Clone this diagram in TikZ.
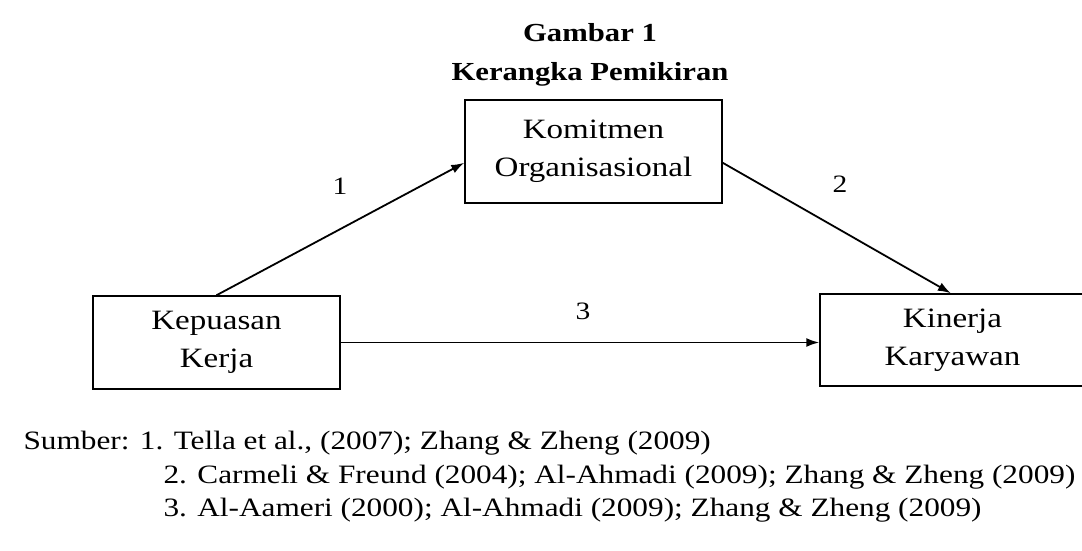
\documentclass[tikz,border=0pt]{standalone}
\usepackage{fontspec}
\setmainfont{Liberation Serif}[FakeStretch=1.18]
\usetikzlibrary{arrows.meta}

\begin{document}
\begin{tikzpicture}[x=1pt,y=-1pt,
    box/.style={draw,line width=1.5pt,align=center,inner sep=0pt,
      font=\fontsize{28}{38}\selectfont},
    link/.style={line width=1.8pt,-{Latex[length=13pt,width=9pt]}},
    num/.style={font=\fontsize{25}{30}\selectfont},
    src/.style={anchor=base west,font=\fontsize{26.5}{30}\selectfont}]
    \useasboundingbox (0,0) rectangle (1082,551);
    \clip (0,0) rectangle (1082,551);
    \node[align=center,font=\bfseries\fontsize{26}{39}\selectfont] (judul) at (590,55)
      {Gambar 1\\Kerangka Pemikiran};
    \node[box,minimum width=257pt,minimum height=103pt] (komit) at (593.5,151.5)
      {Komitmen\\Organisasional};
    \node[box,minimum width=247pt,minimum height=93pt] (puas) at (216.5,342.5)
      {Kepuasan\\Kerja};
    \node[box,minimum width=265pt,minimum height=92pt] (kinerja) at (952.5,340)
      {Kinerja\\Karyawan};
    \draw[link] (puas.north) -- (komit.185);
    \draw[link] (komit.355) -- (kinerja.92);
    \draw[link] (puas.east) -- (puas.east -| kinerja.west);
    \node[num] (n1) at (340,186) {1};
    \node[num] (n2) at (840,184) {2};
    \node[num] (n3) at (583,311) {3};
    % sumber
    \node[src] (s1) at (20,449) {Sumber: 1. Tella et al., (2007); Zhang \& Zheng (2009)};
    \node[src] (s2) at (160,483) {2. Carmeli \& Freund (2004); Al-Ahmadi (2009); Zhang \& Zheng (2009)};
    \node[src] (s3) at (160,516) {3. Al-Aameri (2000); Al-Ahmadi (2009); Zhang \& Zheng (2009)};
\end{tikzpicture}
\end{document}
